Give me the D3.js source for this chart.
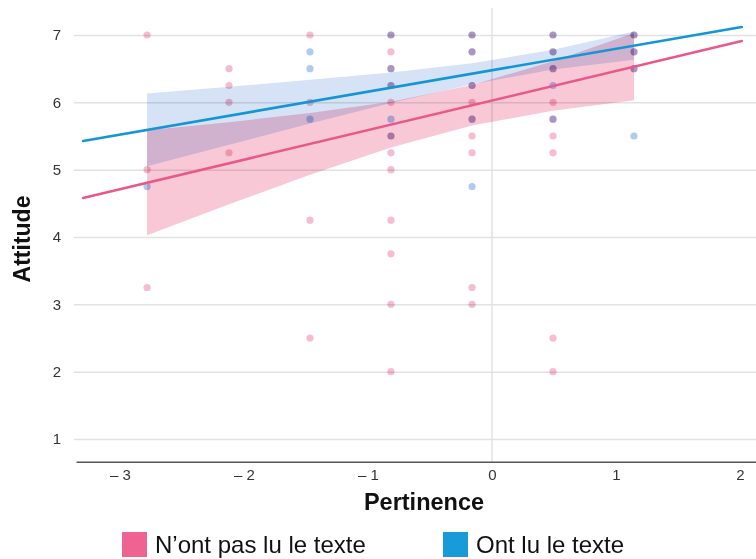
<!DOCTYPE html>
<html><head><meta charset="utf-8">
<script src="https://cdn.jsdelivr.net/npm/d3@7"></script>
<style>
body{margin:0;background:#fff;}
svg{display:block;font-family:"Liberation Sans",Arial,Helvetica,sans-serif;}
</style></head>
<body>
<svg id="chart" width="756" height="559"></svg>
<script>
// ---------- data ----------
const seriesNames = ["N’ont pas lu le texte", "Ont lu le texte"];
const xTickValues = [-3, -2, -1, 0, 1, 2];
const yTickValues = [1, 2, 3, 4, 5, 6, 7];
// pertinence values of the 7 answer columns
const columnsX = [-2.782, -2.121, -1.468, -0.815, -0.161, 0.492, 1.145];
// points: [column index, attitude]
const pinkPoints = [
  [0,7],[0,5],[0,3.25],
  [1,6.5],[1,6.25],[1,6],[1,5.25],
  [2,7],[2,6],[2,4.25],[2,2.5],
  [3,7],[3,6.75],[3,6.5],[3,6.25],[3,6],[3,5.5],[3,5.25],[3,5],[3,4.25],[3,3.75],[3,3],[3,2],
  [4,7],[4,6.75],[4,6.25],[4,6],[4,5.75],[4,5.5],[4,5.25],[4,3.25],[4,3],
  [5,7],[5,6.75],[5,6.5],[5,6],[5,5.75],[5,5.5],[5,5.25],[5,2.5],[5,2],
  [6,7],[6,6.75],[6,6.5]
];
const bluePoints = [
  [0,4.75],
  [2,6.75],[2,6.5],[2,5.75],
  [3,7],[3,6.5],[3,6.25],[3,5.75],[3,5.5],
  [4,7],[4,6.75],[4,6.25],[4,5.75],[4,4.75],
  [5,7],[5,6.75],[5,6.5],[5,6.25],[5,5.75],
  [6,7],[6,6.75],[6,6.5],[6,5.5]
];
// regression lines (end points)
const pinkLine = [[-3.298, 4.579], [2.014, 6.911]];
const blueLine = [[-3.298, 5.426], [2.014, 7.119]];
// confidence bands at each column
const pinkLower = [4.026, 4.486, 4.926, 5.330, 5.656, 5.876, 6.031];
const pinkUpper = [5.586, 5.706, 5.840, 6.010, 6.258, 6.612, 7.031];
const blueLower = [5.052, 5.371, 5.684, 5.989, 6.270, 6.488, 6.631];
const blueUpper = [6.130, 6.231, 6.334, 6.445, 6.580, 6.780, 7.053];

// ---------- drawing ----------
const W = 756, H = 559;
const svg = d3.select("#chart");
const x = d3.scaleLinear().domain([-3.355, 2.129]).range([76, 756]);
const y = d3.scaleLinear().domain([0.663, 7.52]).range([461.7, 0]);

const colors = {
  pinkBand: "#f8c8d7", blueBand: "#d6e3f6",
  pinkDot: "#f6bccf", blueDot: "#b0cbef",
  pinkLine: "#e9588b", blueLine: "#1496d5",
  pinkKey: "#ef6392", blueKey: "#1a9bd9"
};

// horizontal gridlines + y labels
const yAxis = d3.axisLeft(y).tickValues(yTickValues).tickFormat(d3.format("d"))
  .tickSize(-(W - 74)).tickPadding(13);
const gy = svg.append("g").attr("transform", "translate(74,0)").call(yAxis);
gy.select(".domain").remove();
gy.selectAll(".tick line").attr("stroke", "#e2e2e2").attr("stroke-width", 1.5);
gy.selectAll(".tick text").attr("fill", "#333").attr("font-size", 15);

// zero vertical line
svg.append("line")
  .attr("x1", x(0)).attr("x2", x(0))
  .attr("y1", y.range()[1] + 8).attr("y2", y.range()[0])
  .attr("stroke", "#e2e2e2").attr("stroke-width", 1.5);

// bands
function band(lower, upper, col) {
  const area = d3.area()
    .x((d, i) => x(columnsX[i]))
    .y0((d, i) => y(lower[i]))
    .y1((d, i) => y(upper[i]));
  svg.append("path").datum(lower).attr("d", area)
    .attr("fill", col).style("mix-blend-mode", "multiply");
}
band(blueLower, blueUpper, colors.blueBand);
band(pinkLower, pinkUpper, colors.pinkBand);

// points
function pts(data, col) {
  svg.append("g").selectAll("circle").data(data).join("circle")
    .attr("cx", d => x(columnsX[d[0]]))
    .attr("cy", d => y(d[1]))
    .attr("r", 3.6)
    .attr("fill", col)
    .style("mix-blend-mode", "multiply");
}
pts(pinkPoints, colors.pinkDot);
pts(bluePoints, colors.blueDot);

// regression lines
const line = d3.line().x(d => x(d[0])).y(d => y(d[1]));
svg.append("path").datum(pinkLine).attr("d", line)
  .attr("stroke", colors.pinkLine).attr("stroke-width", 2.6).attr("fill", "none").attr("stroke-linecap", "round");
svg.append("path").datum(blueLine).attr("d", line)
  .attr("stroke", colors.blueLine).attr("stroke-width", 2.6).attr("fill", "none").attr("stroke-linecap", "round");

// x axis
const xAxis = d3.axisBottom(x).tickValues(xTickValues).tickSize(0).tickPadding(8)
  .tickFormat(d => d < 0 ? "\u2013 " + Math.abs(d) : String(d));
const gx = svg.append("g").attr("transform", `translate(0,${y.range()[0]})`).call(xAxis);
gx.select(".domain").attr("stroke", "#555").attr("stroke-width", 1.6);
gx.selectAll(".tick text").attr("fill", "#333").attr("font-size", 15);

// axis titles
svg.append("text").attr("x", 424).attr("y", 510)
  .attr("text-anchor", "middle").attr("font-weight", "bold").attr("font-size", 23.5)
  .attr("fill", "#111").text("Pertinence");
svg.append("text").attr("transform", "translate(30,239) rotate(-90)")
  .attr("text-anchor", "middle").attr("font-weight", "bold").attr("font-size", 23)
  .attr("fill", "#111").text("Attitude");

// legend
const legendX = [122, 443];
const lg = svg.append("g").selectAll("g").data(seriesNames).join("g")
  .attr("transform", (d, i) => `translate(${legendX[i]},532)`);
lg.append("rect").attr("width", 25).attr("height", 25)
  .attr("fill", (d, i) => i === 0 ? colors.pinkKey : colors.blueKey);
lg.append("text").attr("x", 33).attr("y", 21).attr("font-size", 24)
  .attr("fill", "#111").text(d => d);
</script>
</body></html>
